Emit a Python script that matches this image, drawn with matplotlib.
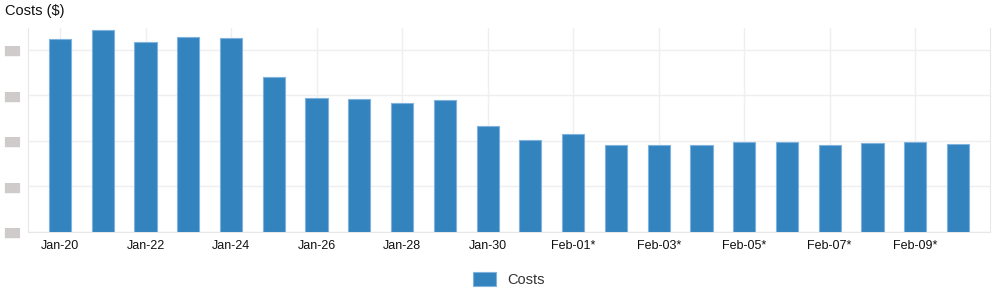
import numpy as np
import matplotlib
matplotlib.use('Agg')
import matplotlib.pyplot as plt

plt.rcParams['font.family'] = ['Liberation Sans', 'DejaVu Sans']

# daily costs, '*' marks projected days
days = ['Jan-20', 'Jan-21', 'Jan-22', 'Jan-23', 'Jan-24', 'Jan-25', 'Jan-26', 'Jan-27',
        'Jan-28', 'Jan-29', 'Jan-30', 'Jan-31', 'Feb-01*', 'Feb-02*', 'Feb-03*', 'Feb-04*',
        'Feb-05*', 'Feb-06*', 'Feb-07*', 'Feb-08*', 'Feb-09*', 'Feb-10*']
costs = [4.23, 4.43, 4.18, 4.29, 4.27, 3.41, 2.95, 2.92, 2.84, 2.89, 2.33,
         2.03, 2.15, 1.90, 1.92, 1.92, 1.97, 1.97, 1.92, 1.95, 1.98, 1.94]
yticks = [0, 1, 2, 3, 4]

bar_col = '#3383bf'
grid_col = '#efefef'

fig = plt.figure(figsize=(9.99, 2.98), dpi=100)
ax = fig.add_axes([28 / 999, 66 / 298, 962 / 999, 204 / 298])

x = np.arange(len(days))
ax.bar(x, costs, width=0.52, color=bar_col, edgecolor='#7fb2dc', linewidth=0.8,
       label='Costs', zorder=3)

ax.set_xlim(-0.75, len(days) - 0.25)
ax.set_ylim(0, 4.48)
ax.set_xticks(x[::2])
ax.set_xticklabels(days[::2], fontsize=9, color='#111111')
ax.set_yticks(yticks)
# the value labels are blurred out in the source, show them as grey blocks
ax.set_yticklabels(['\u2588\u2588' for _ in yticks], fontsize=7.5, color='#cfcbcb',
                   family='DejaVu Sans')
ax.tick_params(length=0, pad=6)

ax.grid(True, color=grid_col, linewidth=1, zorder=0)
for side in ['left', 'right', 'bottom']:
    ax.spines[side].set_color('#e8e8e8')
ax.spines['top'].set_visible(False)

fig.text(5 / 999, 1 - 11 / 298, 'Costs ($)', fontsize=10.5, va='center', ha='left', color='#111111')

ax.legend(loc='upper center', bbox_to_anchor=(0.5, -0.13), frameon=False, fontsize=10.5,
          handlelength=1.6, handleheight=1.1, labelcolor='#333333')

plt.savefig('out.png', dpi=100, facecolor='w')
